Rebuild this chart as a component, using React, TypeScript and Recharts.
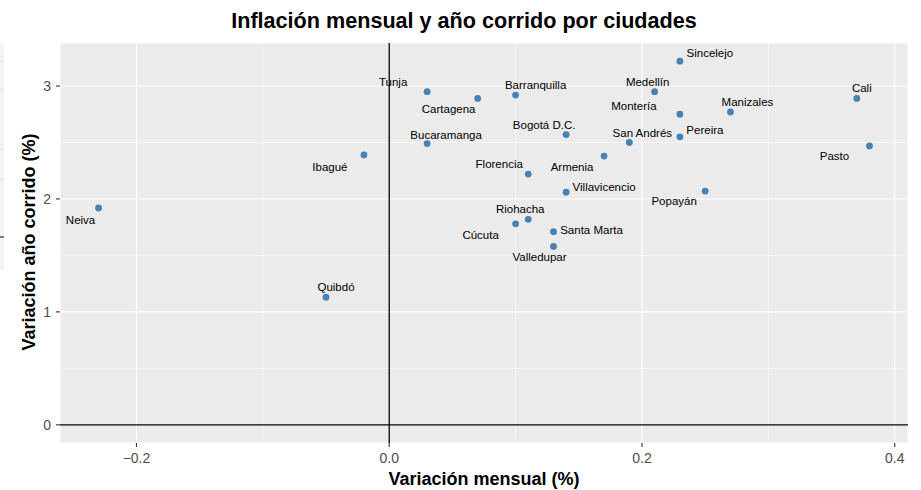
import React from 'react';
import { ScatterChart, Scatter, XAxis, YAxis, CartesianGrid, ReferenceLine } from 'recharts';

const cities = ['Neiva','Quibdó','Ibagué','Tunja','Bucaramanga','Cartagena','Barranquilla','Cúcuta','Florencia','Riohacha','Santa Marta','Valledupar','Bogotá D.C.','Villavicencio','Armenia','San Andrés','Medellín','Sincelejo','Montería','Pereira','Popayán','Manizales','Cali','Pasto'];
const monthly = [-0.23,-0.05,-0.02,0.03,0.03,0.07,0.10,0.10,0.11,0.11,0.13,0.13,0.14,0.14,0.17,0.19,0.21,0.23,0.23,0.23,0.25,0.27,0.37,0.38];
const ytd = [1.92,1.13,2.39,2.95,2.49,2.89,2.92,1.78,2.22,1.82,1.71,1.58,2.57,2.06,2.38,2.50,2.95,3.22,2.75,2.55,2.07,2.77,2.89,2.47];

const xTicks = [-0.2, 0, 0.2, 0.4];
const yTicks = [0, 1, 2, 3];
const xMinor = [-0.1, 0.1, 0.3];
const yMinor = [0.5, 1.5, 2.5];

const TITLE = 'Inflación mensual y año corrido por ciudades';
const X_TITLE = 'Variación mensual (%)';
const Y_TITLE = 'Variación año corrido (%)';

// label placement (repel-like offsets, px)
const labelOffsets: Record<string, [number, number]> = {
  'Neiva': [-18, 12], 'Quibdó': [10, -10], 'Ibagué': [-34, 12], 'Tunja': [-34, -10],
  'Bucaramanga': [19, -9], 'Cartagena': [-29, 11], 'Barranquilla': [20, -10], 'Cúcuta': [-35, 11],
  'Florencia': [-29, -10], 'Riohacha': [-8, -10], 'Santa Marta': [38, -2], 'Valledupar': [-14, 11],
  'Bogotá D.C.': [-22, -10], 'Villavicencio': [38, -5], 'Armenia': [-32, 11], 'San Andrés': [13, -10],
  'Medellín': [-7, -10], 'Sincelejo': [30, -8], 'Montería': [-46, -8], 'Pereira': [25, -7],
  'Popayán': [-31, 10], 'Manizales': [17, -10], 'Cali': [5, -10], 'Pasto': [-35, 10],
};

const data = cities.map((c, i) => ({ city: c, x: monthly[i], y: ytd[i] }));

const xRange = Math.max(...monthly) - Math.min(...monthly);
const xDomain: [number, number] = [Math.min(...monthly) - 0.05 * xRange, Math.max(...monthly) + 0.05 * xRange];
const yLo = Math.min(0, ...ytd);
const yHi = Math.max(...ytd);
const yDomain: [number, number] = [yLo - 0.05 * (yHi - yLo), yHi + 0.05 * (yHi - yLo)];

const FONT = '"Liberation Sans", Arial, Helvetica, sans-serif';

const fmtX = (v: number) => (v === 0 ? '0.0' : v < 0 ? '\u2212' + Math.abs(v).toFixed(1) : v.toFixed(1));

const PointShape = (props: any) => {
  const { cx, cy, payload } = props;
  const off = labelOffsets[payload.city] || [0, -10];
  return (
    <g>
      <circle cx={cx} cy={cy} r={3.4} fill="#4682B4" />
      <text x={cx + off[0]} y={cy + off[1]} dy="0.35em" textAnchor="middle" fontSize={11.5} fill="#000" fontFamily={FONT}>
        {payload.city}
      </text>
    </g>
  );
};

export default function App() {
  return (
    <div style={{ position: 'absolute', left: 0, top: 0, width: 921, height: 490, background: '#fff', fontFamily: FONT }}>
      <ScatterChart width={921} height={490} margin={{ top: 43, right: 13, bottom: 17, left: 0 }}>
        <CartesianGrid fill="#EBEBEB" stroke="#FFFFFF" strokeWidth={1.1} />
        {xMinor.map((v) => (
          <ReferenceLine key={'xm' + v} x={v} stroke="#FFFFFF" strokeWidth={0.55} />
        ))}
        {yMinor.map((v) => (
          <ReferenceLine key={'ym' + v} y={v} stroke="#FFFFFF" strokeWidth={0.55} />
        ))}
        <XAxis
          type="number"
          dataKey="x"
          domain={xDomain}
          ticks={xTicks}
          allowDataOverflow
          tickFormatter={fmtX}
          height={30}
          axisLine={false}
          tickSize={4}
          tickMargin={6}
          tickLine={{ stroke: '#333333', strokeWidth: 1.1 }}
          tick={{ fill: '#4D4D4D', fontSize: 14, fontFamily: FONT }}
        />
        <YAxis
          type="number"
          dataKey="y"
          domain={yDomain}
          ticks={yTicks}
          allowDataOverflow
          width={60}
          axisLine={false}
          tickSize={4}
          tickMargin={5}
          tickLine={{ stroke: '#333333', strokeWidth: 1.1 }}
          tick={{ fill: '#4D4D4D', fontSize: 14, fontFamily: FONT }}
        />
        <ReferenceLine x={0} stroke="#000000" strokeWidth={1.3} />
        <ReferenceLine y={0} stroke="#000000" strokeWidth={1.3} />
        <Scatter data={data} shape={PointShape} isAnimationActive={false} />
      </ScatterChart>
      <svg width={921} height={490} style={{ position: 'absolute', left: 0, top: 0, pointerEvents: 'none' }}>
        <text x={464} y={28} textAnchor="middle" fontSize={21.6} fontWeight="bold" fill="#000" fontFamily={FONT}>{TITLE}</text>
        <text x={484} y={485} textAnchor="middle" fontSize={18} fontWeight="bold" fill="#000" fontFamily={FONT}>{X_TITLE}</text>
        <text x={0} y={0} transform="translate(35,242) rotate(-90)" textAnchor="middle" fontSize={18} fontWeight="bold" fill="#000" fontFamily={FONT}>{Y_TITLE}</text>
        <g>
          <rect x={0} y={43} width={4} height={225} fill="#F4F4F4" />
          {[61, 90, 120, 149, 179, 208, 268].map((y) => (
            <line key={y} x1={0} x2={4} y1={y} y2={y} stroke="#DDDDDD" strokeWidth={0.8} />
          ))}
          <line x1={0} x2={4} y1={237} y2={237} stroke="#000" strokeWidth={1} />
        </g>
      </svg>
    </div>
  );
}
